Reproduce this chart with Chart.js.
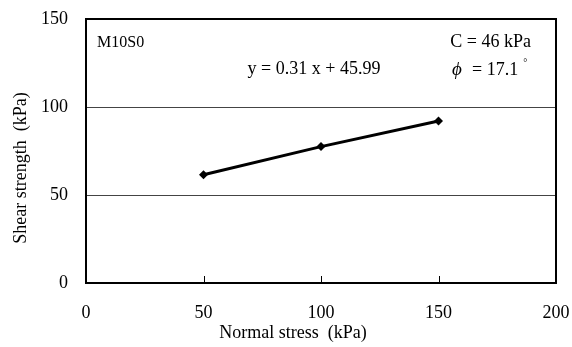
<!DOCTYPE html>
<html>
<head>
<meta charset="utf-8">
<script src="https://cdn.jsdelivr.net/npm/chart.js@4"></script>
<style>
  html, body { margin: 0; padding: 0; background: #fff; }
  #wrap { width: 572px; height: 347px; }
</style>
</head>
<body>
<div id="wrap"><canvas id="c" width="572" height="347"></canvas></div>
<script>
// Shear strength vs normal stress (M10S0)
var normalStress = [50, 100, 150];
var shearStrength = [61.5, 77.5, 92];
var xTickValues = [0, 50, 100, 150, 200];
var yTickValues = [0, 50, 100, 150];
var innerTickValues = [50, 100, 150];
var sampleName = 'M10S0';
var fitLabel = 'y = 0.31 x + 45.99';
var cohesionLabel = 'C = 46 kPa';
var frictionValue = '= 17.1';
var xTitle = 'Normal stress  (kPa)';
var yTitle = 'Shear strength  (kPa)';

var serif = '"Liberation Serif", "Times New Roman", serif';

// frame, inward x ticks, axis titles and text notes
var framePlugin = {
  id: 'frame',
  afterDraw: function (chart) {
    var ctx = chart.ctx;
    var a = chart.chartArea;
    var xs = chart.scales.x;
    ctx.save();
    ctx.strokeStyle = '#000';
    ctx.lineWidth = 1;
    innerTickValues.forEach(function (v) {
      var px = Math.round(xs.getPixelForValue(v)) + 0.5;
      ctx.beginPath();
      ctx.moveTo(px, a.bottom);
      ctx.lineTo(px, a.bottom - 7);
      ctx.stroke();
    });
    ctx.lineWidth = 2;
    ctx.strokeRect(a.left, a.top, a.right - a.left, a.bottom - a.top);

    ctx.fillStyle = '#000';
    ctx.textBaseline = 'middle';

    // axis titles
    ctx.font = '18px ' + serif;
    ctx.textAlign = 'center';
    ctx.fillText(xTitle, 293, 333);
    ctx.save();
    ctx.translate(21, 168);
    ctx.rotate(-Math.PI / 2);
    ctx.fillText(yTitle, 0, 0);
    ctx.restore();

    // notes
    ctx.font = '16px ' + serif;
    ctx.textAlign = 'left';
    ctx.fillText(sampleName, 97, 43);
    ctx.font = '18px ' + serif;
    ctx.textAlign = 'center';
    ctx.fillText(fitLabel, 314, 69);
    ctx.textAlign = 'right';
    ctx.fillText(cohesionLabel, 531, 42);
    ctx.textAlign = 'left';
    ctx.fillText(frictionValue, 472, 70);
    var w = ctx.measureText(frictionValue).width;
    ctx.font = '10px ' + serif;
    ctx.fillText('°', 472 + w + 5, 63);
    ctx.font = 'italic 19px ' + serif;
    ctx.fillText('\u03d5', 452, 70);
    ctx.restore();
  }
};

new Chart(document.getElementById('c').getContext('2d'), {
  type: 'scatter',
  data: {
    datasets: [{
      data: normalStress.map(function (x, i) { return { x: x, y: shearStrength[i] }; }),
      showLine: true,
      borderColor: '#000',
      backgroundColor: '#000',
      borderWidth: 3,
      pointStyle: 'rectRot',
      pointRadius: 4.5,
      pointBorderWidth: 0,
      tension: 0
    }]
  },
  options: {
    responsive: false,
    animation: false,
    devicePixelRatio: 1,
    layout: { padding: { top: 19, right: 16, left: 0, bottom: 0 } },
    plugins: { legend: { display: false }, tooltip: { enabled: false } },
    scales: {
      x: {
        type: 'linear',
        min: 0, max: 200,
        afterBuildTicks: function (s) { s.ticks = xTickValues.map(function (v) { return { value: v }; }); },
        afterFit: function (s) { s.height = 64; s.paddingLeft = 0; s.paddingRight = 0; },
        grid: { display: false },
        border: { display: false },
        ticks: { color: '#000', font: { family: serif, size: 18 }, padding: 11, maxRotation: 0 }
      },
      y: {
        type: 'linear',
        min: 0, max: 150,
        afterBuildTicks: function (s) { s.ticks = yTickValues.map(function (v) { return { value: v }; }); },
        afterFit: function (s) { s.width = 86; s.paddingTop = 0; s.paddingBottom = 0; },
        grid: { color: '#444', lineWidth: 1, drawTicks: false },
        border: { display: false },
        ticks: { color: '#000', font: { family: serif, size: 18 }, padding: 18 }
      }
    }
  },
  plugins: [framePlugin]
});
</script>
</body>
</html>
